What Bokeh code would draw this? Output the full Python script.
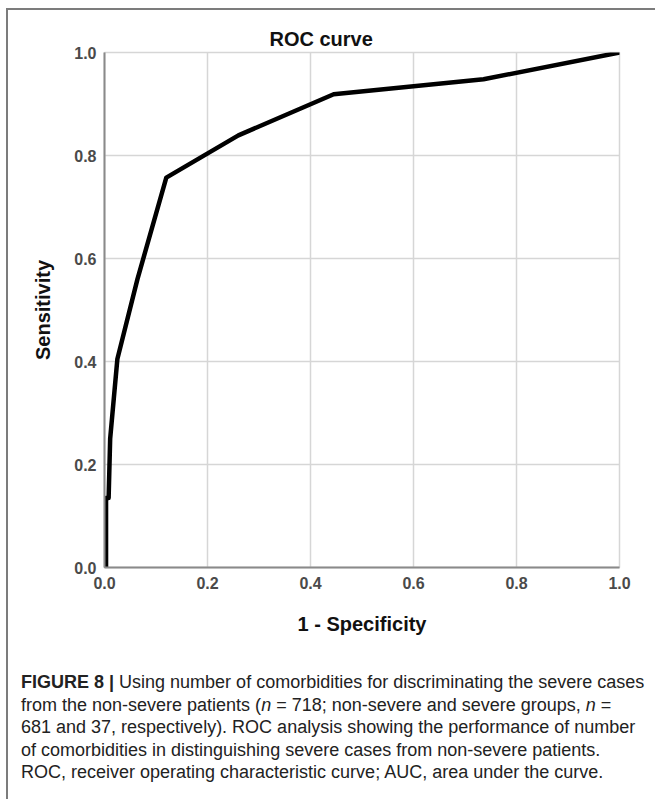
from bokeh.plotting import figure
from bokeh.models import Range1d, FixedTicker, PrintfTickFormatter, Div
from bokeh.layouts import column
from bokeh.embed import file_html
from bokeh.resources import INLINE

# ROC curve points (1 - specificity, sensitivity)
fpr = [0.0, 0.003, 0.003, 0.008, 0.011, 0.025, 0.064, 0.12, 0.26, 0.445, 0.736, 1.0]
tpr = [0.0, 0.0, 0.135, 0.135, 0.25, 0.405, 0.56, 0.757, 0.839, 0.919, 0.948, 1.0]
ticks = [0.0, 0.2, 0.4, 0.6, 0.8, 1.0]

title_text = "ROC curve"
x_label = "1 - Specificity"
y_label = "Sensitivity"
caption_lines = [
    "<b>FIGURE 8 |</b> Using number of comorbidities for discriminating the severe cases",
    "from the non-severe patients (<i>n</i> = 718; non-severe and severe groups, <i>n</i> =",
    "681 and 37, respectively). ROC analysis showing the performance of number",
    "of comorbidities in distinguishing severe cases from non-severe patients.",
    "ROC, receiver operating characteristic curve; AUC, area under the curve.",
]

FONT = "Liberation Sans"

p = figure(width=645, height=642, output_backend="svg", toolbar_location=None,
           x_range=Range1d(0, 1), y_range=Range1d(0, 1),
           min_border_left=96, min_border_right=34, min_border_top=42, min_border_bottom=85)
p.background_fill_color = "white"
p.border_fill_color = "white"
p.outline_line_color = "#d6d6d6"
p.outline_line_width = 1.5

p.title.text = title_text
p.title.align = "left"
p.title.offset = 165
p.title.text_font = FONT
p.title.text_font_size = "20px"
p.title.text_font_style = "bold"
p.title.text_color = "#111111"
p.title.standoff = 6

for ax in (p.xaxis[0], p.yaxis[0]):
    ax.ticker = FixedTicker(ticks=ticks)
    ax.formatter = PrintfTickFormatter(format="%.1f")
    ax.axis_line_color = "#8a8a8a"
    ax.axis_line_width = 2
    ax.major_tick_line_color = None
    ax.minor_tick_line_color = None
    ax.major_tick_out = 0
    ax.major_tick_in = 0
    ax.major_label_text_font = FONT
    ax.major_label_text_font_size = "16px"
    ax.major_label_text_font_style = "bold"
    ax.major_label_text_color = "#4a4a4a"
    ax.axis_label_text_font = FONT
    ax.axis_label_text_font_size = "20px"
    ax.axis_label_text_font_style = "bold"
    ax.axis_label_text_color = "#111111"

p.xaxis.axis_label = x_label
p.yaxis.axis_label = y_label
p.xaxis.major_label_standoff = 9
p.yaxis.major_label_standoff = 8
p.xaxis.axis_label_standoff = 21
p.yaxis.axis_label_standoff = 17

p.xgrid.ticker = FixedTicker(ticks=ticks)
p.ygrid.ticker = FixedTicker(ticks=ticks)
p.grid.grid_line_color = "#d6d6d6"
p.grid.grid_line_width = 1.5

p.line(fpr, tpr, line_color="black", line_width=4.5, line_join="round", line_cap="round")

caption = Div(
    text=('<div style="font-family:\'Liberation Sans\',sans-serif;'
          'font-size:18px;line-height:22.5px;color:#222;white-space:nowrap;'
          'padding-left:8px;padding-top:14px;">' + "<br>".join(caption_lines) + "</div>"),
    width=645, height=138)

layout = column(p, caption, styles={"border-left": "2px solid #7c7c7c",
                                    "border-top": "2px solid #7c7c7c",
                                    "margin-top": "8px", "margin-left": "6px"})

open("out.html", "w").write(file_html(layout, INLINE))
